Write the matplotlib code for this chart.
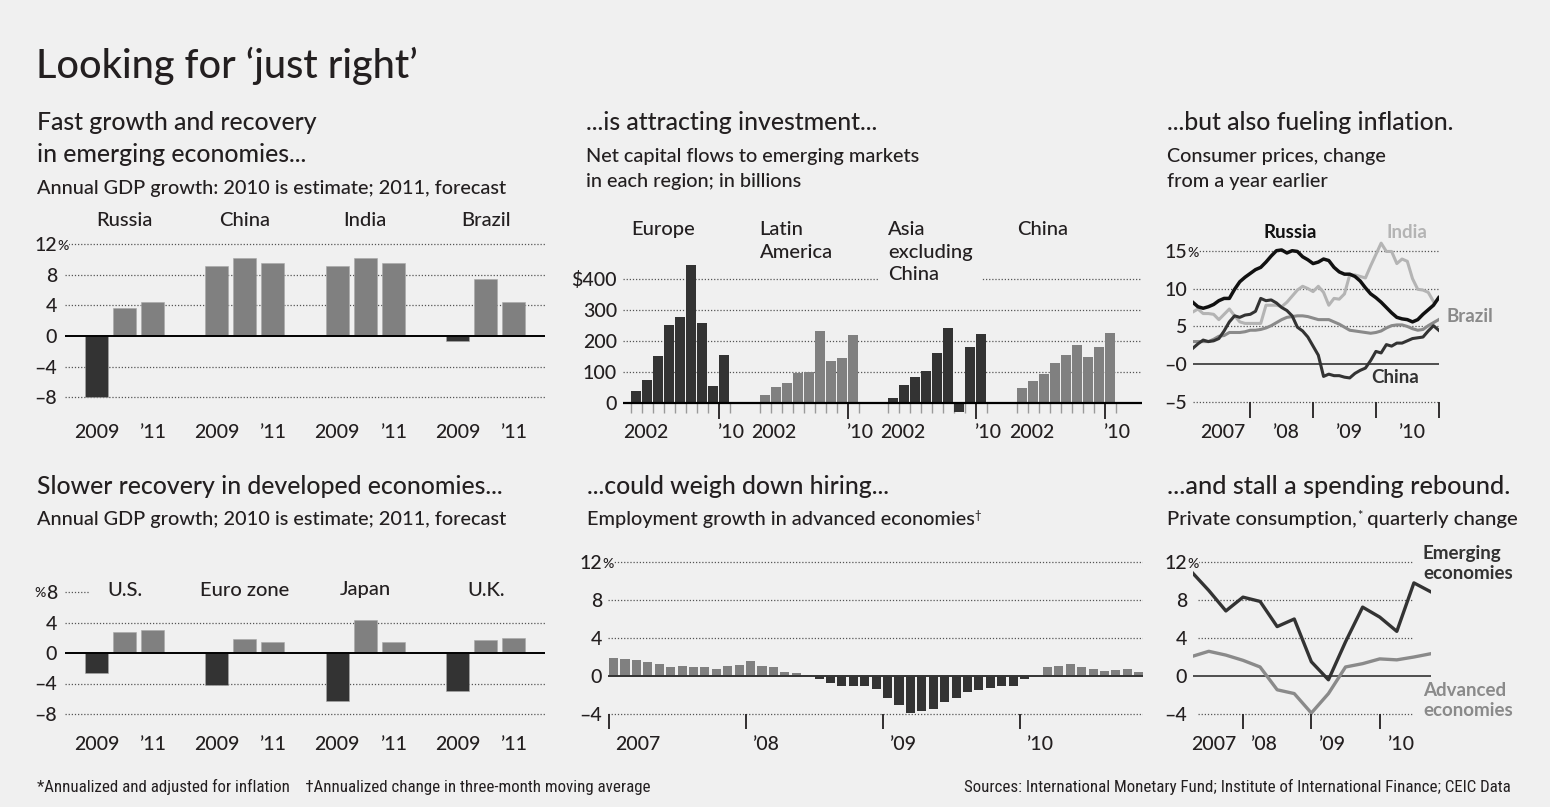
import matplotlib
matplotlib.use("Agg")
import matplotlib.pyplot as plt
from matplotlib import font_manager

# ---- data ----
em_countries = ["Russia", "China", "India", "Brazil"]
em_2009 = [-7.9, 9.1, 9.1, -0.6]
em_2010 = [3.6, 10.2, 10.2, 7.4]
em_2011 = [4.4, 9.5, 9.5, 4.4]

dev_countries = ["U.S.", "Euro zone", "Japan", "U.K."]
dev_2009 = [-2.6, -4.2, -6.3, -5.0]
dev_2010 = [2.8, 1.8, 4.3, 1.7]
dev_2011 = [3.0, 1.5, 1.5, 2.0]

flow_regions = ["Europe", "Latin\nAmerica", "Asia\nexcluding\nChina", "China"]
europe_flows = [40, 75, 152, 252, 279, 444, 257, 54, 155]
latam_flows = [27, 51, 66, 97, 100, 232, 136, 145, 219]
asia_flows = [17, 59, 84, 103, 161, 241, -30, 182, 221]
china_flows = [50, 72, 94, 129, 155, 186, 147, 182, 227]

# monthly CPI, Jan 2007 - Dec 2010
russia_cpi = [8.2, 7.6, 7.4, 7.6, 7.9, 8.4, 8.7, 8.7, 9.9, 10.9, 11.5, 12.0,
              12.5, 12.8, 13.5, 14.3, 15.0, 15.1, 14.7, 15.0, 14.9, 14.2, 13.8, 13.3,
              13.5, 13.9, 13.7, 12.8, 12.2, 11.9, 11.9, 11.6, 11.0, 10.1, 9.3, 8.8,
              8.2, 7.5, 6.8, 6.2, 6.0, 5.9, 5.6, 5.9, 6.6, 7.2, 7.8, 8.8]
india_cpi = [6.9, 7.3, 6.7, 6.7, 6.6, 5.9, 6.6, 7.3, 6.4, 5.6, 5.4, 5.4,
             5.4, 5.4, 7.8, 7.8, 7.8, 7.6, 8.2, 9.0, 9.8, 10.3, 10.0, 9.6,
             10.3, 9.5, 7.8, 8.7, 8.6, 9.3, 11.8, 11.8, 11.6, 11.4, 13.0, 14.5,
             16.0, 14.9, 14.9, 13.3, 13.9, 13.6, 11.3, 9.9, 9.8, 9.5, 8.3]
brazil_cpi = [3.0, 3.0, 3.0, 3.0, 3.3, 3.7, 3.8, 4.2, 4.2, 4.2, 4.3, 4.5,
              4.5, 4.6, 4.8, 5.1, 5.5, 5.9, 6.2, 6.3, 6.4, 6.4, 6.3, 6.1,
              5.9, 5.9, 5.9, 5.6, 5.3, 4.9, 4.5, 4.4, 4.3, 4.2, 4.1, 4.2,
              4.4, 4.8, 5.1, 5.2, 5.2, 5.0, 4.7, 4.5, 4.6, 5.1, 5.5, 5.9]
china_cpi = [2.1, 2.7, 3.2, 3.0, 3.1, 3.4, 4.4, 5.6, 6.4, 6.2, 6.5, 6.6,
             7.0, 8.7, 8.4, 8.5, 8.1, 7.5, 7.1, 6.4, 4.9, 4.4, 3.6, 2.4,
             1.2, -1.6, -1.3, -1.5, -1.5, -1.7, -1.8, -1.2, -0.8, -0.5, 0.5, 1.7,
             1.5, 2.6, 2.4, 2.8, 2.8, 3.1, 3.4, 3.5, 3.6, 4.4, 5.1, 4.5]

# monthly employment growth, Jan 2007 - Nov 2010
employment = [1.85, 1.75, 1.7, 1.5, 1.25, 1.0, 1.05, 0.95, 0.95, 0.75, 1.1, 1.2,
              1.55, 1.1, 0.9, 0.4, 0.35, 0.15, -0.3, -0.75, -1.05, -1.0, -1.1, -1.4,
              -2.3, -3.05, -3.85, -3.7, -3.45, -2.75, -2.3, -1.7, -1.45, -1.25, -1.1, -1.05,
              -0.35, 0.03, 1.0, 1.1, 1.25, 1.0, 0.75, 0.55, 0.65, 0.7, 0.4]

# quarterly private consumption, Q1 2007 - Q3 2010
emerging_cons = [10.95, 9.0, 6.85, 8.3, 7.85, 5.2, 6.0, 1.5, -0.4, 3.6, 7.25, 6.2, 4.7, 9.8, 8.85]
advanced_cons = [2.05, 2.6, 2.2, 1.65, 0.95, -1.45, -1.85, -3.9, -1.85, 0.95, 1.3, 1.8, 1.7, 2.0, 2.35]

gdp_ticks = [12, 8, 4, 0, -4, -8]
gdp_labels = ["12%", "8", "4", "0", "\u20134", "\u20138"]
dev_ticks = [8, 4, 0, -4, -8]
dev_labels = ["%8", "4", "0", "\u20134", "\u20138"]
flow_ticks = [400, 300, 200, 100, 0]
flow_labels = ["$400", "300", "200", "100", "0"]
cpi_ticks = [15, 10, 5, 0, -5]
cpi_labels = ["15%", "10", "5", "\u20130", "\u20135"]
emp_ticks = [12, 8, 4, 0, -4]
emp_labels = ["12%", "8", "4", "0", "\u20134"]
year_labels = ["2007", "\u201908", "\u201909", "\u201910"]

# ---- style ----
BG = "#f0f0f0"
INK = "#231f20"
DARK = "#333333"
GRAY = "#808080"
MID = "#8a8a8a"
LIGHT = "#b4b4b4"
DOTS = dict(color="#555555", lw=0.9, ls=(0, (1, 1.5)), zorder=0)
TICK = 14

plt.rcParams["font.family"] = ["Lato", "DejaVu Sans"]
plt.rcParams["font.weight"] = "medium"
plt.rcParams["text.color"] = INK
installed = {f.name for f in font_manager.fontManager.ttflist}
NARROW = "DejaVu Sans"
for name in ["Liberation Sans Narrow", "Roboto Condensed", "DejaVu Sans Condensed"]:
    if name in installed:
        NARROW = name
        break

W, H = 1550, 807
fig = plt.figure(figsize=(W / 100, H / 100), dpi=100, facecolor=BG)


def make_axes(box, xcal, ycal):
    l, t, r, b = box
    ax = fig.add_axes([l / W, 1 - b / H, (r - l) / W, (b - t) / H])
    (x0, p0), (x1, p1) = xcal
    k = (x1 - x0) / (p1 - p0)
    ax.set_xlim(x0 + (l - p0) * k, x0 + (r - p0) * k)
    (y0, q0), (y1, q1) = ycal
    k = (y1 - y0) / (q1 - q0)
    ax.set_ylim(y0 + (b - q0) * k, y0 + (t - q0) * k)
    ax.patch.set_visible(False)
    for s in ax.spines.values():
        s.set_visible(False)
    ax.set_xticks([])
    ax.set_yticks([])
    return ax


def ypx(ax, p):
    return ax.transData.inverted().transform((0, H - p))[1]


def xpx(ax, p):
    return ax.transData.inverted().transform((p, 0))[0]


def yaxis_labels(ax, ticks, labels, right_px, size=TICK):
    # number right-aligned at right_px, a small % hangs after (or before) it
    x = xpx(ax, right_px)
    drop = -0.36 * size
    for v, lab in zip(ticks, labels):
        num = lab.strip("%")
        ax.annotate(num, (x, v), xytext=(0, drop), textcoords="offset points",
                    ha="right", va="baseline", fontsize=size, annotation_clip=False)
        if lab.endswith("%"):
            ax.annotate("%", (x, v), xytext=(0.2, drop + 0.8), textcoords="offset points",
                        ha="left", va="baseline", fontsize=size * 0.72, annotation_clip=False,
                        bbox=dict(boxstyle="square,pad=0.05", fc=BG, ec="none"))
        elif lab.startswith("%"):
            ax.annotate("%", (x, v), xytext=(-0.56 * size, drop + 1.5), textcoords="offset points",
                        ha="right", va="baseline", fontsize=size * 0.72, annotation_clip=False)


def text_px(x, y, s, **kw):
    return fig.text(x / W, 1 - y / H, s, **kw)


def text_run(x, y, parts, **kw):
    r = fig.canvas.get_renderer()
    for s, size, dy in parts:
        t = text_px(x, y - dy, s, fontsize=size, va="baseline", **kw)
        x += t.get_window_extent(renderer=r).width


# ---- title and headings ----
text_px(36, 78, "Looking for \u2018just right\u2019", fontsize=28.5, va="baseline")

HEAD = 17.8
SUB = 14.3
text_px(37, 130, "Fast growth and recovery", fontsize=HEAD, va="baseline")
text_px(37, 162, "in emerging economies...", fontsize=HEAD, va="baseline")
text_px(37, 194, "Annual GDP growth: 2010 is estimate; 2011, forecast", fontsize=SUB, va="baseline")

text_px(586, 130, "...is attracting investment...", fontsize=HEAD, va="baseline")
text_px(586, 162, "Net capital flows to emerging markets", fontsize=SUB, va="baseline")
text_px(586, 187, "in each region; in billions", fontsize=SUB, va="baseline")

text_px(1167, 130, "...but also fueling inflation.", fontsize=HEAD, va="baseline")
text_px(1167, 162, "Consumer prices, change", fontsize=SUB, va="baseline")
text_px(1167, 187, "from a year earlier", fontsize=SUB, va="baseline")

text_px(37, 494, "Slower recovery in developed economies...", fontsize=HEAD, va="baseline")
text_px(37, 525, "Annual GDP growth; 2010 is estimate; 2011, forecast", fontsize=SUB, va="baseline")

text_px(587, 494, "...could weigh down hiring...", fontsize=HEAD, va="baseline")
text_run(587, 525, [("Employment growth in advanced economies", SUB, 0), ("\u2020", 8, 6)])

text_px(1167, 494, "...and stall a spending rebound.", fontsize=HEAD + 0.4, va="baseline")
text_run(1167, 525, [("Private consumption,", SUB + 0.4, 0), ("*", 9, 5), (" quarterly change", SUB + 0.4, 0)])

text_px(37, 792, "*Annualized and adjusted for inflation    \u2020Annualized change in three-month moving average",
        fontsize=12.2, va="baseline", family=NARROW, weight="normal")
text_px(1511, 792, "Sources: International Monetary Fund; Institute of International Finance; CEIC Data",
        fontsize=12.2, va="baseline", ha="right", family=NARROW, weight="normal")


# ---- GDP bar panels ----
def gdp_panel(box, ycal, countries, v09, v10, v11, ticks, labels, group_y, year_y, short_top=False):
    ax = make_axes(box, ((0, 96.5), (14.9, 513.7)), ycal)
    for v in ticks:
        if v == 0:
            continue
        if short_top and v == ticks[0]:
            ax.axhline(v, xmax=0.05, **DOTS)
        else:
            ax.axhline(v, **DOTS)
    ax.axhline(0, color="black", lw=1.4, zorder=3)
    for g, name in enumerate(countries):
        vals = [v09[g], v10[g], v11[g]]
        xs = [g * 4.3 + j for j in range(3)]
        ax.bar(xs, vals, width=0.82, color=[DARK if v < 0 else GRAY for v in vals],
               edgecolor="#a8a8a8", linewidth=0.4, zorder=2)
        ax.text(g * 4.3 + 1, ypx(ax, group_y), name, ha="center", va="center", fontsize=14.5)
        ax.text(xs[0], ypx(ax, year_y), "2009", ha="center", va="center", fontsize=TICK, clip_on=False)
        ax.text(xs[2], ypx(ax, year_y), "\u201911", ha="center", va="center", fontsize=TICK, clip_on=False)
    yaxis_labels(ax, ticks, labels, 57)
    return ax


gdp_panel((65, 205, 545, 450), ((0, 336), (12, 244)), em_countries, em_2009, em_2010, em_2011,
          gdp_ticks, gdp_labels, 220, 433)
gdp_panel((65, 575, 545, 760), ((0, 653), (4, 622.5)), dev_countries, dev_2009, dev_2010, dev_2011,
          dev_ticks, dev_labels, 590, 745, short_top=True)

# ---- capital flows ----
ax = make_axes((623, 215, 1142, 445), ((0, 631), (35.1, 1017)), ((0, 403), (400, 279)))
for v in flow_ticks[:-1]:
    ax.axhline(v, **DOTS)
ax.axhline(0, color="black", lw=1.6, zorder=3)
flow_series = [europe_flows, latam_flows, asia_flows, china_flows]
flow_colors = [DARK, GRAY, DARK, GRAY]
tick_short = ypx(ax, 413)
tick_long = ypx(ax, 419)
for g, (name, vals, col) in enumerate(zip(flow_regions, flow_series, flow_colors)):
    start = g * 11.7
    xs = [start + i for i in range(len(vals))]
    ax.bar(xs, vals, width=0.9, align="edge", color=col, edgecolor="none", zorder=2)
    ax.vlines([start + i for i in range(len(vals) + 1) if i != 8], tick_short, 0,
              color="#9a9a9a", lw=1, zorder=1, clip_on=False)
    ax.vlines(start + 8, tick_long, 0, color=INK, lw=1.3, clip_on=False)
    ax.text(start + 1.3, ypx(ax, 432), "2002", ha="center", va="center", fontsize=TICK, clip_on=False)
    ax.text(start + 9.05, ypx(ax, 432), "\u201910", ha="center", va="center", fontsize=TICK, clip_on=False)
    ax.text(start, ypx(ax, 221), name, ha="left", va="top", fontsize=14.5, linespacing=1.4, zorder=4,
            bbox=dict(boxstyle="square,pad=0.45", fc=BG, ec="none"))
yaxis_labels(ax, flow_ticks, flow_labels, 617)

# ---- inflation ----
ax = make_axes((1193, 215, 1439, 445), ((0, 1192.7), (47, 1438.7)), ((0, 364.3), (15, 250.7)))
for v in cpi_ticks:
    if v != 0:
        ax.axhline(v, **DOTS)
ax.axhline(0, color=DARK, lw=1.2, zorder=1)
ax.plot(range(len(india_cpi)), india_cpi, color=LIGHT, lw=2.2, zorder=2)
ax.plot(range(len(brazil_cpi)), brazil_cpi, color=MID, lw=2.2, zorder=3)
ax.plot(range(len(china_cpi)), china_cpi, color=DARK, lw=2.2, zorder=4)
ax.plot(range(len(russia_cpi)), russia_cpi, color="#111111", lw=2.5, zorder=5)
ax.vlines([11, 23, 35, 47], ypx(ax, 418), -5, color=INK, lw=1.3, clip_on=False)
for k, lab in enumerate(year_labels):
    ax.text(12 * k + 5.8, ypx(ax, 432), lab, ha="center", va="center", fontsize=TICK, clip_on=False)
ax.text(xpx(ax, 1290), ypx(ax, 232), "Russia", ha="center", va="center", fontsize=13.5,
        fontweight="bold", color="#111111", clip_on=False)
ax.text(xpx(ax, 1407), ypx(ax, 232), "India", ha="center", va="center", fontsize=13.5,
        fontweight="bold", color=LIGHT, clip_on=False)
ax.text(xpx(ax, 1447), ypx(ax, 316), "Brazil", ha="left", va="center", fontsize=13.5,
        fontweight="bold", color=MID, clip_on=False)
ax.text(xpx(ax, 1395), ypx(ax, 378), "China", ha="center", va="center", fontsize=13.5,
        fontweight="bold", color=DARK, clip_on=False)
yaxis_labels(ax, cpi_ticks, cpi_labels, 1187)

# ---- employment ----
ax = make_axes((608, 550, 1143, 760), ((0, 609), (36, 1020)), ((0, 676), (12, 562)))
for v in emp_ticks:
    if v != 0:
        ax.axhline(v, **DOTS)
ax.axhline(0, color=DARK, lw=1.4, zorder=3)
ax.bar(range(len(employment)), employment, width=0.8, align="edge",
       color=[DARK if v < 0 else GRAY for v in employment], edgecolor="none", zorder=2)
ax.vlines([0, 12, 24, 36], ypx(ax, 729), -4, color=INK, lw=1.3, clip_on=False)
for k, lab in enumerate(year_labels):
    ax.text(12 * k + 0.55, ypx(ax, 745), lab, ha="left", va="center", fontsize=TICK, clip_on=False)
yaxis_labels(ax, emp_ticks, emp_labels, 602)

# ---- private consumption ----
ax = make_axes((1193, 550, 1431, 760), ((0, 1191.7), (14, 1431)), ((0, 676), (12, 562)))
for v in emp_ticks:
    if v != 0:
        ax.hlines(v, 0.37, 12.97, **DOTS)
ax.axhline(0, color=DARK, lw=1.2, zorder=1)
q = range(len(emerging_cons))
ax.plot(q, advanced_cons, color=MID, lw=2.4, zorder=2)
ax.plot(q, emerging_cons, color=DARK, lw=2.4, zorder=3)
ax.vlines([3, 7, 11], ypx(ax, 729), -4, color=INK, lw=1.3, clip_on=False)
off = xpx(ax, 1198) - xpx(ax, 1191)
ax.text(3 - off, ypx(ax, 745), year_labels[0], ha="right", va="center", fontsize=TICK, clip_on=False)
for k, lab in enumerate(year_labels[1:]):
    ax.text(3 + 4 * k + off, ypx(ax, 745), lab, ha="left", va="center", fontsize=TICK, clip_on=False)
ax.text(xpx(ax, 1423), ypx(ax, 545), "Emerging\neconomies", ha="left", va="top", fontsize=13.5,
        fontweight="bold", color=DARK, linespacing=1.2, clip_on=False)
ax.text(xpx(ax, 1423), ypx(ax, 682), "Advanced\neconomies", ha="left", va="top", fontsize=13.5,
        fontweight="bold", color=MID, linespacing=1.2, clip_on=False)
yaxis_labels(ax, emp_ticks, emp_labels, 1187)

fig.savefig("out.png", dpi=100, facecolor=BG)
